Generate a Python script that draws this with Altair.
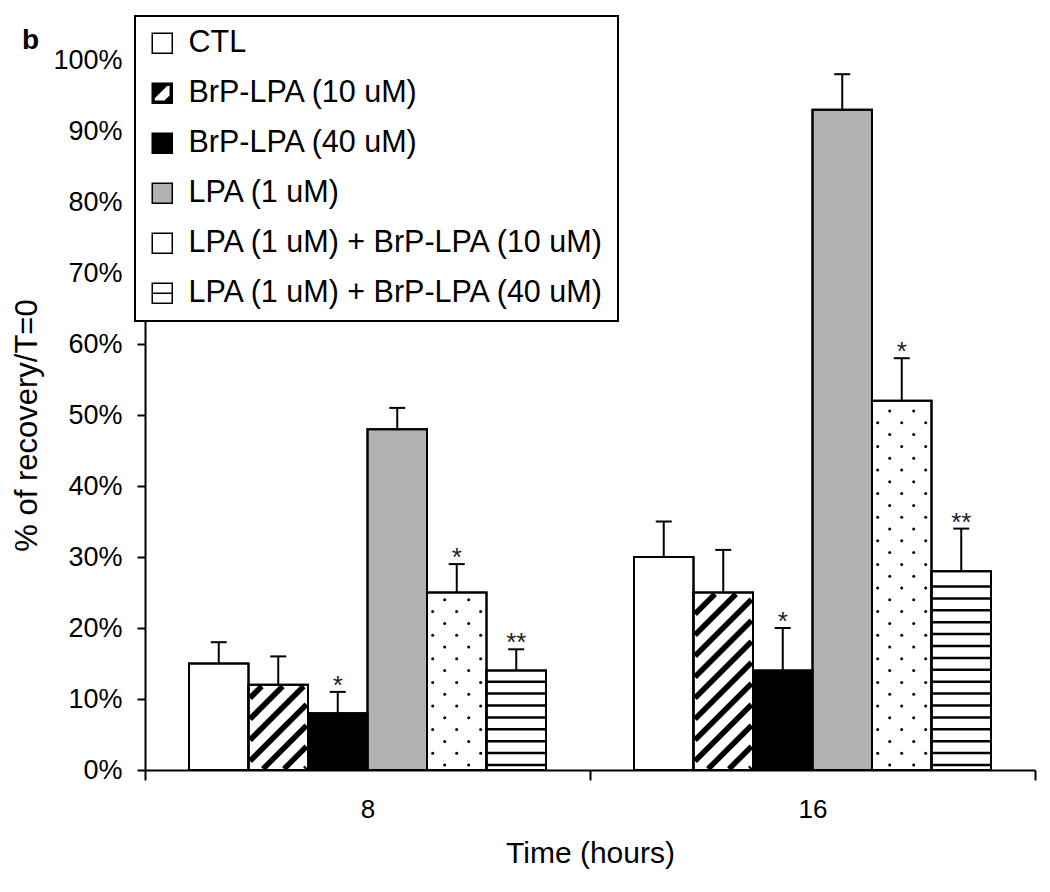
import altair as alt
import pandas as pd

# ---------------- data ----------------
times = ["8", "16"]
series = [
    "CTL",
    "BrP-LPA (10 uM)",
    "BrP-LPA (40 uM)",
    "LPA (1 uM)",
    "LPA (1 uM) + BrP-LPA (10 uM)",
    "LPA (1 uM) + BrP-LPA (40 uM)",
]
values_8 = [15, 12, 8, 48, 25, 14]
values_16 = [30, 25, 14, 93, 52, 28]
upper_8 = [18, 16, 11, 51, 29, 17]
upper_16 = [35, 31, 20, 98, 58, 34]
stars_8 = ["", "", "*", "", "*", "**"]
stars_16 = ["", "", "*", "", "*", "**"]
y_ticks = [0, 10, 20, 30, 40, 50, 60, 70, 80, 90, 100]

# ---------------- styles ----------------
bar_fills = ["#ffffff", "#ffffff", "#000000", "#b2b2b2", "#ffffff", "#ffffff"]
legend_fills = ["#ffffff", "#000000", "#000000", "#b2b2b2", "#ffffff", "#ffffff"]
legend_strokes = ["#000000"] * 6
SQ = "M-1,-1H1V1H-1Z"
legend_shapes = [
    SQ,
    SQ + " M-0.8,-0.8V0.8H0.8V-0.8Z M-0.8,-0.8H0.45L-0.8,0.45Z M0.8,0.25V0.8H0.25Z",
    SQ,
    SQ,
    SQ,
    SQ + " M-1,0H1",
]
patterns = ["none", "hatch", "none", "none", "dots", "stripes"]
FONT = "Liberation Sans"

W, H = 890, 710
Y_MAX = 100
PX_X = W / len(times)      # pixels per x unit (one unit per time group)
PX_Y = H / Y_MAX           # pixels per percent
BAR_W = 59.5 / PX_X

rows = []
for gi, (t, vals, ups, sts) in enumerate(
    zip(times, [values_8, values_16], [upper_8, upper_16], [stars_8, stars_16])
):
    for si, s in enumerate(series):
        x0 = gi + 0.5 - 3 * BAR_W + si * BAR_W
        rows.append(dict(time=t, series=s, x0=x0, x1=x0 + BAR_W, xc=x0 + BAR_W / 2,
                         half=vals[si] / 2, value=vals[si], upper=ups[si],
                         star=sts[si], pattern=patterns[si], gi=gi,
                         barfill=bar_fills[si]))
bars = pd.DataFrame(rows)

# pattern geometry derived from the bars
hatch, dots, stripes = [], [], []
w_px = BAR_W * PX_X
for r in rows:
    h_px = r["value"] * PX_Y
    if r["pattern"] == "hatch":
        m = 1.5
        c = -w_px + 4
        while c < h_px:
            lo = max(m, 1 - c)
            hi = min(w_px - m, h_px - m - c)
            if hi - lo > 1:
                hatch.append(dict(x=r["x0"] + lo / PX_X, y=(lo + c) / PX_Y,
                                  x2=r["x0"] + hi / PX_X, y2=(hi + c) / PX_Y))
            c += 21
    elif r["pattern"] == "dots":
        y, k = 5.0, 0
        while y < h_px - 3:
            offs = [17.7, 41.7] if k % 2 == 0 else [5.7, 29.7, 53.7]
            for o in offs:
                dots.append(dict(x=r["x0"] + o / PX_X, y=y / PX_Y))
            y += 11.8
            k += 1
    elif r["pattern"] == "stripes":
        y = 5.0
        while y < h_px - 5:
            stripes.append(dict(x=r["x0"], x2=r["x1"], y=y / PX_Y))
            y += 11.9

hatch_df = pd.DataFrame(hatch)
dots_df = pd.DataFrame(dots)
stripes_df = pd.DataFrame(stripes)

xscale = alt.Scale(domain=[0, len(times)], nice=False, zero=False)
yscale = alt.Scale(domain=[0, Y_MAX], nice=False)

label_expr = " : ".join(
    f"datum.value == {i} ? '{t}'" for i, t in enumerate(times)
) + " : ''"

x_axis = alt.Axis(
    values=list(range(len(times) + 1)), labelExpr=label_expr,
    labelOffset=PX_X / 2, labelFlush=False, labelOverlap=False, labelBound=False,
    tickSize=10, tickWidth=2, tickColor="black", domainColor="black", domainWidth=2,
    labelFontSize=26, labelColor="black", labelPadding=16, grid=False,
    title="Time (hours)", titleFontSize=30, titleFontWeight="normal", titleColor="black",
    titleBaseline="alphabetic", titleY=92,
)
y_axis = alt.Axis(
    values=y_ticks, labelExpr="datum.value + '%'",
    tickSize=8, tickWidth=2, tickColor="black", domainColor="black", domainWidth=2,
    labelFontSize=27, labelColor="black", labelPadding=15, grid=False,
    title="% of recovery/T=0", titleFontSize=31, titleFontWeight="normal",
    titleColor="black", titleBaseline="alphabetic", titleX=-109, titleY=365,
)


def X(field):
    return alt.X(field, scale=xscale, axis=x_axis)


def Y(field):
    return alt.Y(field, scale=yscale, axis=y_axis)


base_bars = alt.Chart(bars)

legend = alt.Legend(
    title=None, orient="none", legendX=-10, legendY=-44,
    labelFont=FONT, labelFontSize=30.5, labelColor="black", labelLimit=700,
    labelOffset=11, rowPadding=19, padding=12, symbolSize=400,
    symbolStrokeWidth=1.5, symbolOpacity=1,
    strokeColor="black", fillColor="white",
)

legend_layer = alt.Chart(bars[bars["gi"] == 0]).mark_point(
    filled=True, size=400, opacity=1, strokeWidth=1.5
).encode(
    x=X("xc:Q"),
    y=Y("half:Q"),
    fill=alt.Fill("series:N", scale=alt.Scale(domain=series, range=legend_fills), legend=legend),
    stroke=alt.Stroke("series:N", scale=alt.Scale(domain=series, range=legend_strokes), legend=legend),
    shape=alt.Shape("series:N", scale=alt.Scale(domain=series, range=legend_shapes), legend=legend),
)

bar_layer = base_bars.mark_rect(stroke="black", strokeWidth=2).encode(
    x=X("x0:Q"),
    x2="x1:Q",
    y=Y("value:Q"),
    y2=alt.datum(0),
    fill=alt.Fill("barfill:N", scale=None),
)

hatch_layer = alt.Chart(hatch_df).mark_rule(color="black", strokeWidth=5.5).encode(
    x=X("x:Q"), x2="x2:Q",
    y=Y("y:Q"), y2="y2:Q",
)

dots_layer = alt.Chart(dots_df).mark_circle(color="black", size=9, opacity=1).encode(
    x=X("x:Q"),
    y=Y("y:Q"),
)

stripes_layer = alt.Chart(stripes_df).mark_rule(color="black", strokeWidth=2.5).encode(
    x=X("x:Q"), x2="x2:Q",
    y=Y("y:Q"),
)

outline_layer = base_bars.mark_rect(stroke="black", strokeWidth=2, fillOpacity=0).encode(
    x=X("x0:Q"),
    x2="x1:Q",
    y=Y("value:Q"),
    y2=alt.datum(0),
)

err_layer = base_bars.mark_rule(color="black", strokeWidth=2).encode(
    x=X("xc:Q"),
    y=Y("value:Q"),
    y2="upper:Q",
)

cap_layer = base_bars.mark_tick(color="black", orient="horizontal", size=16,
                                thickness=2, opacity=1).encode(
    x=X("xc:Q"),
    y=Y("upper:Q"),
)

star_layer = base_bars.mark_text(font=FONT, fontSize=26, color="#222222",
                                 baseline="alphabetic", dy=2).encode(
    x=X("xc:Q"),
    y=Y("upper:Q"),
    text="star:N",
)

chart = alt.layer(
    legend_layer, bar_layer, hatch_layer, dots_layer, stripes_layer,
    outline_layer, err_layer, cap_layer, star_layer,
).properties(
    width=W, height=H,
    autosize=alt.AutoSizeParams(type="none"),
    padding={"left": 137, "top": 52, "right": 7, "bottom": 114},
    title=alt.TitleParams(text="b", anchor="start", frame="group", fontSize=28,
                          fontWeight="bold", font=FONT, color="black", dx=-123,
                          dy=40, offset=0),
).configure_axis(
    labelFont=FONT, titleFont=FONT,
).configure_legend(
    strokeWidth=2,
).configure_view(stroke=None)

chart.save("out.html", embed_options={"renderer": "svg", "actions": False})
